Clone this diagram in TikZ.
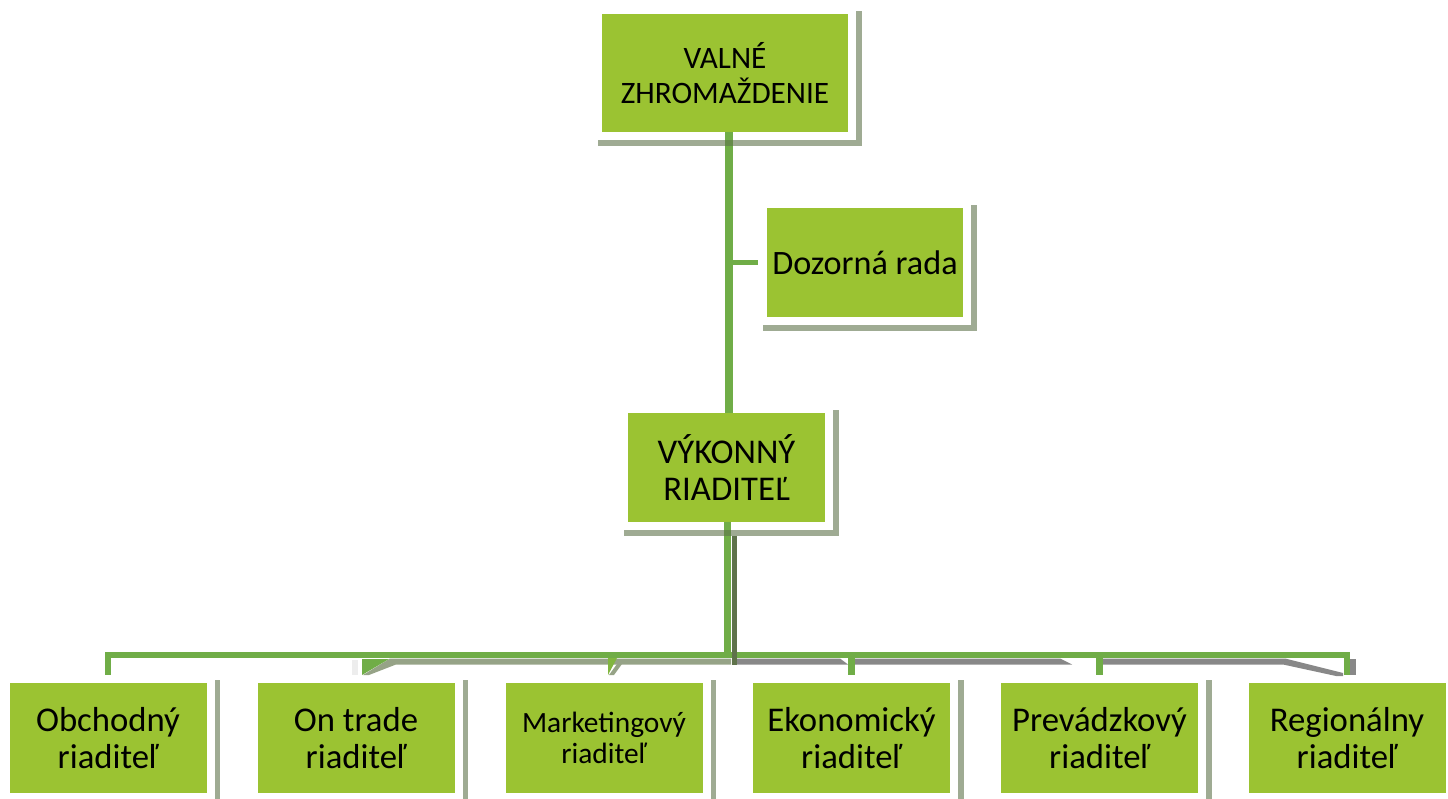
\documentclass[tikz,border=0pt]{standalone}
\usepackage{fontspec}
\setmainfont{Carlito}
\usetikzlibrary{backgrounds}
\definecolor{boxg}{RGB}{155,195,50}
\definecolor{lineg}{RGB}{112,173,71}
\definecolor{shd}{RGB}{95,115,75}
\definecolor{busl}{RGB}{150,163,135}
\definecolor{busd}{RGB}{136,136,136}
\newcommand\myshadow[1]{%
  \fill[shd, fill opacity=0.6] ([xshift=8pt,yshift=3pt]#1.north east) rectangle ([xshift=13.5pt,yshift=-8pt]#1.south east);
  \fill[shd, fill opacity=0.6] ([xshift=-4pt,yshift=-8pt]#1.south west) rectangle ([xshift=13.5pt,yshift=-13.5pt]#1.south east);}
\begin{document}
\begin{tikzpicture}[x=1pt,y=-1pt,
  box/.style={fill=boxg, inner sep=0pt, align=center, text=black,
    font=\fontsize{34.7}{37}\selectfont},
  child/.style={box, minimum width=197pt, minimum height=110pt},
  conn/.style={draw=lineg, line width=6.5pt, line join=miter},
]
\useasboundingbox (0,0) rectangle (1448,799);

% boxes
\node[box, minimum width=246pt, minimum height=118pt, font=\fontsize{31.2}{34.5}\selectfont] (valne) at (725,73) {VALNÉ\\ZHROMAŽDENIE};
\node[box, minimum width=196pt, minimum height=109pt, font=\fontsize{34.2}{37}\selectfont] (doz) at (865,262.5) {Dozorná rada};
\node[box, minimum width=197pt, minimum height=109pt] (vyk) at (726.5,467.5) {VÝKONNÝ\\RIADITEĽ};
\node[child] (c1) at (108,738) {Obchodný\\riaditeľ};
\node[child] (c2) at (356,738) {On trade\\riaditeľ};
\node[child, font=\fontsize{29.4}{31}\selectfont] (c3) at (604,738) {Marketingový\\riaditeľ};
\node[child] (c4) at (851.5,738) {Ekonomický\\riaditeľ};
\node[child] (c5) at (1099.5,738) {Prevádzkový\\riaditeľ};
\node[child] (c6) at (1347,738) {Regionálny\\riaditeľ};

\coordinate (tr) at ([xshift=4pt]valne.south);
\coordinate (t2) at ([xshift=1pt]vyk.south);
\coordinate (bus) at (0,655);

\begin{scope}[on background layer]
  % bus shadows
  \fill[busl] (363,675) -- (390,658.5) -- (731,658.5) -- (731,664.5) -- (396,664.5) -- (369,675) -- cycle;
  \fill[black!7] (352,660) rectangle (358,675);
  \fill[lineg] (362,659) -- (389,659) -- (362,675) -- cycle;
  \fill[lineg!60!boxg] (608,658) -- (617,658) -- (608,675) -- cycle;
  \fill[busl] (609,675) -- (617,664) -- (622,664) -- (614,675) -- cycle;
  \fill[busd] (737,658.5) -- (840,658.5) -- (848,664.5) -- (737,664.5) -- cycle;
  \fill[busd] (855,658.5) -- (1060,658.5) -- (1072,664.5) -- (855,664.5) -- cycle;
  \fill[busd] (1103,658.5) -- (1285,658.5) -- (1343,673) -- (1343,676) -- (1336,676) -- (1283,664.5) -- (1103,664.5) -- cycle;
  \fill[busd] (1350,659) rectangle (1355.5,675);
  % connectors
  \draw[conn, line width=7.5pt] (tr) -- (tr |- vyk.north);
  \draw[conn, line width=5pt] ([xshift=-9pt]doz.west) -- (doz.west -| tr);
  \draw[conn] (t2) -- (t2 |- bus);
  \draw[conn] ([yshift=8pt]c1.north) -- (c1.north |- bus) -- (c6.north |- bus) -- ([yshift=8pt]c6.north);
  \draw[conn] (c4.north |- bus) -- ([yshift=8pt]c4.north);
  \draw[conn] (c5.north |- bus) -- ([yshift=8pt]c5.north);
  \fill[shd] (731.5,536) rectangle (737,664.5);
  % box shadows
  \myshadow{valne}
  \myshadow{doz}
  \myshadow{vyk}
  \myshadow{c1}
  \myshadow{c2}
  \myshadow{c3}
  \myshadow{c4}
  \myshadow{c5}
  \myshadow{c6}
\end{scope}
\end{tikzpicture}
\end{document}
